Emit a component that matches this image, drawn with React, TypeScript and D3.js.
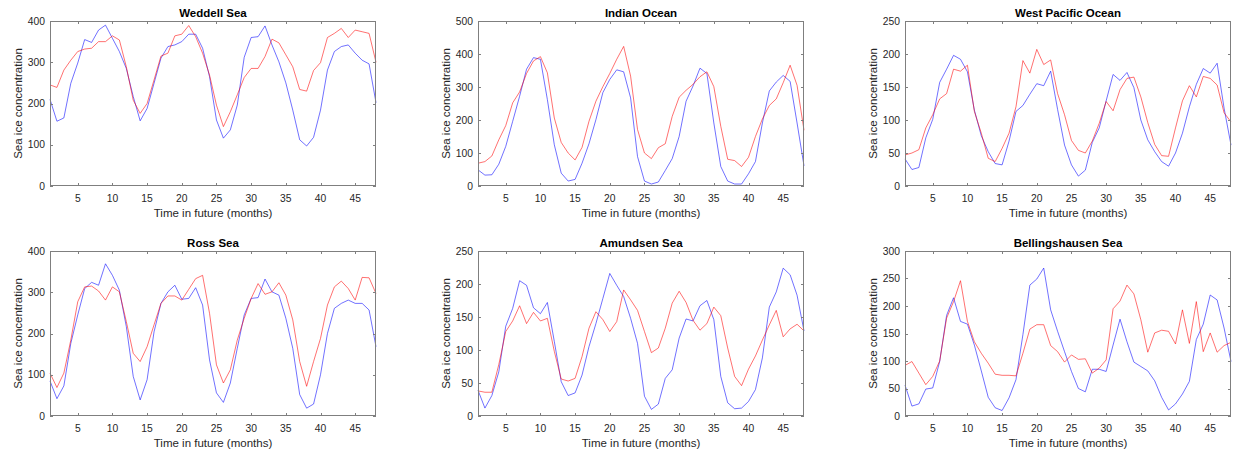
import React from 'react';
import * as d3 from 'd3';

// months 1..48
const months = d3.range(1, 49);

const titles = ['Weddell Sea', 'Indian Ocean', 'West Pacific Ocean', 'Ross Sea', 'Amundsen Sea', 'Bellingshausen Sea'];
const yMaxes = [400, 500, 250, 400, 250, 300];
const yTickSteps = [100, 100, 50, 100, 50, 50];
const xTicks = [5, 10, 15, 20, 25, 30, 35, 40, 45];

const weddellBlue = [210, 157, 165, 249, 298, 355, 348, 378, 390, 358, 326, 285, 217, 158, 188, 249, 310, 338, 342, 350, 368, 368, 334, 265, 160, 116, 136, 196, 312, 360, 362, 388, 342, 301, 250, 184, 112, 97, 118, 184, 281, 326, 338, 342, 322, 305, 296, 202];
const weddellRed = [245, 239, 281, 305, 326, 332, 334, 350, 350, 364, 354, 289, 208, 176, 200, 257, 315, 322, 364, 368, 389, 362, 322, 269, 196, 144, 180, 221, 263, 285, 285, 314, 356, 347, 318, 289, 234, 230, 280, 299, 360, 370, 382, 360, 378, 374, 370, 300];

const indianBlue = [49, 33, 34, 66, 120, 196, 272, 354, 389, 384, 262, 125, 39, 15, 20, 69, 128, 201, 283, 323, 352, 346, 267, 89, 15, 6, 12, 47, 83, 150, 257, 303, 357, 341, 191, 59, 15, 6, 6, 37, 74, 191, 288, 315, 335, 317, 191, 61];
const indianRed = [69, 74, 91, 140, 183, 252, 285, 341, 379, 392, 343, 206, 132, 100, 79, 117, 196, 257, 301, 341, 384, 423, 333, 171, 100, 83, 116, 128, 211, 269, 290, 308, 331, 346, 301, 181, 81, 77, 59, 87, 150, 203, 244, 264, 313, 366, 305, 169];

const westPacBlue = [41, 25, 28, 73, 101, 157, 177, 198, 192, 173, 115, 76, 52, 34, 32, 68, 113, 122, 139, 155, 152, 174, 116, 62, 32, 15, 24, 66, 88, 129, 169, 160, 172, 149, 100, 70, 52, 37, 30, 50, 80, 120, 154, 178, 171, 186, 118, 62];
const westPacRed = [47, 50, 55, 88, 108, 132, 140, 177, 174, 183, 113, 80, 42, 37, 57, 80, 120, 190, 171, 207, 184, 191, 140, 108, 69, 54, 50, 68, 95, 128, 114, 146, 163, 165, 135, 96, 63, 46, 45, 88, 129, 152, 135, 166, 163, 153, 111, 97];

const rossBlue = [85, 42, 73, 176, 245, 309, 324, 317, 369, 341, 305, 217, 96, 39, 88, 204, 273, 301, 317, 283, 285, 311, 269, 136, 56, 33, 80, 164, 245, 285, 287, 332, 301, 293, 237, 164, 52, 19, 29, 100, 200, 261, 273, 281, 273, 273, 257, 168];
const rossRed = [104, 69, 104, 184, 277, 313, 315, 303, 281, 313, 301, 229, 152, 132, 168, 221, 273, 291, 291, 281, 307, 333, 341, 249, 124, 80, 112, 184, 237, 285, 321, 295, 301, 323, 293, 233, 132, 72, 132, 188, 269, 313, 327, 309, 281, 336, 335, 297];

const amundsenBlue = [39, 12, 31, 67, 136, 163, 205, 198, 164, 155, 172, 113, 52, 31, 35, 62, 105, 140, 178, 216, 198, 181, 148, 110, 30, 10, 18, 57, 70, 118, 147, 144, 167, 175, 146, 60, 20, 11, 12, 22, 40, 88, 165, 188, 224, 214, 183, 129];
const amundsenRed = [38, 36, 36, 78, 128, 144, 167, 140, 157, 144, 148, 98, 56, 53, 57, 90, 133, 158, 146, 128, 143, 191, 176, 160, 128, 96, 103, 133, 171, 189, 172, 145, 130, 140, 165, 152, 103, 60, 46, 71, 91, 115, 138, 160, 120, 132, 139, 129];

const bellingBlue = [56, 18, 22, 49, 51, 99, 183, 215, 172, 167, 129, 82, 34, 15, 10, 33, 66, 148, 238, 249, 269, 193, 154, 117, 81, 50, 44, 85, 85, 81, 129, 176, 135, 98, 90, 82, 64, 34, 11, 22, 40, 63, 139, 167, 220, 211, 160, 99];
const bellingRed = [92, 99, 78, 57, 72, 100, 178, 208, 246, 172, 135, 114, 96, 76, 74, 74, 73, 114, 158, 166, 166, 128, 117, 98, 111, 103, 104, 78, 87, 102, 195, 209, 238, 222, 175, 116, 151, 156, 154, 131, 193, 132, 208, 117, 151, 116, 128, 134];

const blueSeries = [weddellBlue, indianBlue, westPacBlue, rossBlue, amundsenBlue, bellingBlue];
const redSeries = [weddellRed, indianRed, westPacRed, rossRed, amundsenRed, bellingRed];

const W = 1238;
const H = 450;
const panelLefts = [50, 478, 905];
const panelTops = [21, 251];
const pw = 326;
const ph = 165;
const font = '"Liberation Sans", Arial, Helvetica, sans-serif';
const textColor = '#262626';
const axisColor = '#7f7f7f';
const tickLen = 3;

type PanelProps = { idx: number; left: number; top: number };

const Panel = ({ idx, left, top }: PanelProps) => {
  const x = d3.scaleLinear().domain([1, 48]).range([0, pw]);
  const y = d3.scaleLinear().domain([0, yMaxes[idx]]).range([ph, 0]);
  const yTicks = d3.range(0, yMaxes[idx] + 1, yTickSteps[idx]);

  const line = d3.line<number>()
    .x((_, i) => x(months[i]))
    .y(d => y(d));

  return (
    <g transform={`translate(${left},${top})`}>
      <rect x={0} y={0} width={pw} height={ph} fill="#fff" />
      <path d={line(blueSeries[idx]) || ''} fill="none" stroke="#0000ff" strokeWidth={0.7} strokeOpacity={0.8} />
      <path d={line(redSeries[idx]) || ''} fill="none" stroke="#ff0000" strokeWidth={0.7} strokeOpacity={0.8} />

      {/* box */}
      <rect x={0.5} y={0.5} width={pw - 1} height={ph - 1} fill="none" stroke={axisColor} strokeWidth={1} />

      {/* x ticks, inward on top and bottom */}
      {xTicks.map(t => (
        <g key={'x' + t}>
          <line x1={Math.round(x(t)) + 0.5} x2={Math.round(x(t)) + 0.5} y1={ph} y2={ph - tickLen} stroke={axisColor} />
          <line x1={Math.round(x(t)) + 0.5} x2={Math.round(x(t)) + 0.5} y1={0} y2={tickLen} stroke={axisColor} />
          <text x={x(t)} y={ph + 16} textAnchor="middle" fontSize={10.3} fill={textColor} fontFamily={font}>{t}</text>
        </g>
      ))}

      {/* y ticks, inward on left and right */}
      {yTicks.map(t => (
        <g key={'y' + t}>
          <line x1={0} x2={tickLen} y1={Math.round(y(t)) + 0.5} y2={Math.round(y(t)) + 0.5} stroke={axisColor} />
          <line x1={pw - tickLen} x2={pw} y1={Math.round(y(t)) + 0.5} y2={Math.round(y(t)) + 0.5} stroke={axisColor} />
          <text x={-5} y={y(t) + 3.6} textAnchor="end" fontSize={10.3} fill={textColor} fontFamily={font}>{t}</text>
        </g>
      ))}

      <text x={pw / 2} y={-4} textAnchor="middle" fontSize={11.5} fontWeight="bold" fill="#000" fontFamily={font}>{titles[idx]}</text>
      <text x={pw / 2} y={ph + 31} textAnchor="middle" fontSize={11.5} fill={textColor} fontFamily={font}>Time in future (months)</text>
      <text transform={`translate(${-28},${ph / 2}) rotate(-90)`} textAnchor="middle" fontSize={11.5} fill={textColor} fontFamily={font}>Sea ice concentration</text>
    </g>
  );
};

export default function App() {
  return (
    <div style={{ position: 'absolute', left: 0, top: 0 }}>
      <svg width={W} height={H} style={{ display: 'block', background: '#fff' }}>
        {titles.map((t, i) => (
          <Panel key={t} idx={i} left={panelLefts[i % 3]} top={panelTops[Math.floor(i / 3)]} />
        ))}
      </svg>
    </div>
  );
}
